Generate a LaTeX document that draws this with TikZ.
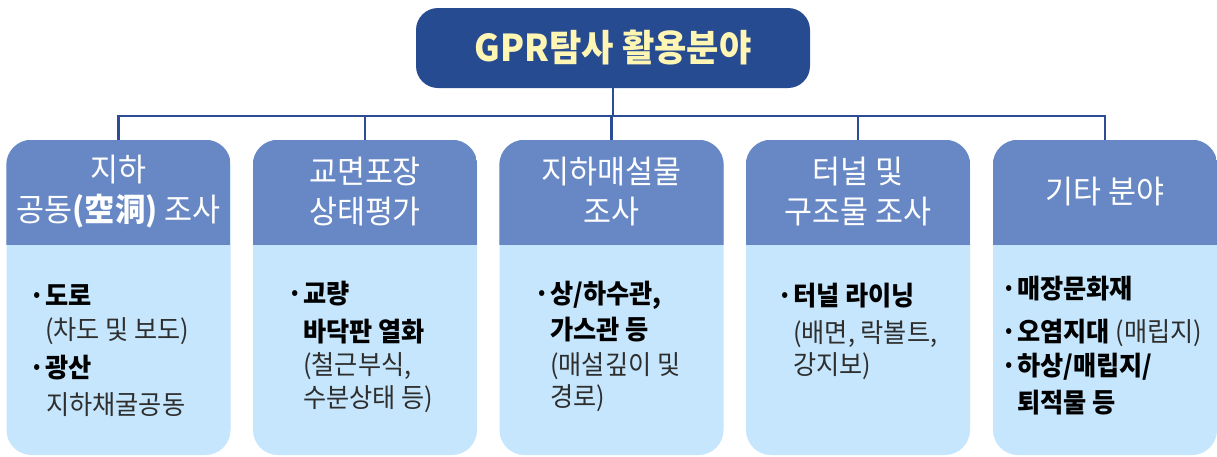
\documentclass[tikz,border=0pt]{standalone}
\usepackage{fontspec}
\newfontfamily\kr[FakeStretch=0.95]{Noto Sans CJK KR}
\definecolor{titlefill}{HTML}{274B91}
\definecolor{titletext}{HTML}{FFF6B4}
\definecolor{hdrfill}{HTML}{6788C5}
\definecolor{bodyfill}{HTML}{C5E6FC}
\definecolor{linec}{HTML}{2C4C94}
\definecolor{regtext}{HTML}{2E2E2E}
\newcommand\bul{\llap{·\hspace{0.5pt}}}
\tikzset{
  titlebox/.style={fill=titlefill, rounded corners=22pt, minimum width=394pt, minimum height=80pt, inner sep=0pt,
    text=titletext, font=\kr\bfseries\fontsize{37}{40}\selectfont},
  fieldbox/.style={fill=bodyfill, rounded corners=25pt, minimum width=224pt, minimum height=315pt, inner sep=0pt},
  hdrtext/.style={text=white, align=center, inner sep=0pt, font=\kr\fontsize{32}{40}\selectfont},
  bodyb/.style={anchor=base west, inner sep=0pt, text=black, font=\kr\bfseries\fontsize{26.5}{35}\selectfont},
  bodyr/.style={anchor=base west, inner sep=0pt, text=regtext, font=\kr\fontsize{26.5}{35}\selectfont},
  conn/.style={draw=linec, line width=2.5pt}
}
\begin{document}
\begin{tikzpicture}[x=1pt, y=-1pt]
\useasboundingbox[fill=white] (0,0) rectangle (1217,456);
\coordinate (bus) at (0,116);
\coordinate (hb) at (0,245);
% field boxes
\foreach \i/\cx in {1/118.5, 2/365, 3/611.5, 4/858, 5/1105}{
  \node[fieldbox] (b\i) at (\cx,297.5) {};
  \begin{scope}
    \clip[rounded corners=25pt] (b\i.north west) rectangle (b\i.south east);
    \fill[hdrfill] (b\i.north west) rectangle (b\i.east |- hb);
  \end{scope}
}
% title
\node[titlebox] (title) at (613,48) {GPR탐사 활용분야};
% connectors
\draw[conn] (title.south) -- (title.south |- bus);
\draw[conn] (b1.north) -- (b1.north |- bus) -- (b5.north |- bus) -- (b5.north);
\foreach \i in {2,3,4}{ \draw[conn] (b\i.north |- bus) -- (b\i.north); }
% headers
\node[hdrtext] (h1) at (118.5,192) {지하\\공동\textbf{(空洞)} 조사};
\node[hdrtext] (h2) at (365,192) {교면포장\\상태평가};
\node[hdrtext] (h3) at (611.5,192) {지하매설물\\조사};
\node[hdrtext] (h4) at (858,192) {터널 및\\구조물 조사};
\node[hdrtext] (h5) at (1105,192) {기타 분야};
% box 1
\node[bodyb] (t11) at (45,305) {\bul 도로};
\node[bodyr] (t12) at (45,339) {(차도 및 보도)};
\node[bodyb] (t13) at (45,377) {\bul 광산};
\node[bodyr] (t14) at (46,414) {지하채굴공동};
% box 2
\node[bodyb] (t21) at (303,303) {\bul 교량};
\node[bodyb] (t22) at (303,341) {바닥판 열화};
\node[bodyr] (t23) at (303,374) {(철근부식,};
\node[bodyr] (t24) at (303,407) {수분상태 등)};
% box 3
\node[bodyb] (t31) at (550,303) {\bul 상/하수관,};
\node[bodyb] (t32) at (550,339) {가스관 등};
\node[bodyr] (t33) at (550,374) {(매설깊이 및};
\node[bodyr] (t34) at (550,406) {경로)};
% box 4
\node[bodyb] (t41) at (793,305) {\bul 터널 라이닝};
\node[bodyr] (t42) at (793,342) {(배면, 락볼트,};
\node[bodyr] (t43) at (793,374) {강지보)};
% box 5
\node[bodyb] (t51) at (1017,298) {\bul 매장문화재};
\node[bodyb] (t52) at (1017,341) {\bul 오염지대 {\mdseries\color{regtext}(매립지)}};
\node[bodyb] (t53) at (1017,375) {\bul 하상/매립지/};
\node[bodyb] (t54) at (1017,412) {퇴적물 등};
\end{tikzpicture}
\end{document}
